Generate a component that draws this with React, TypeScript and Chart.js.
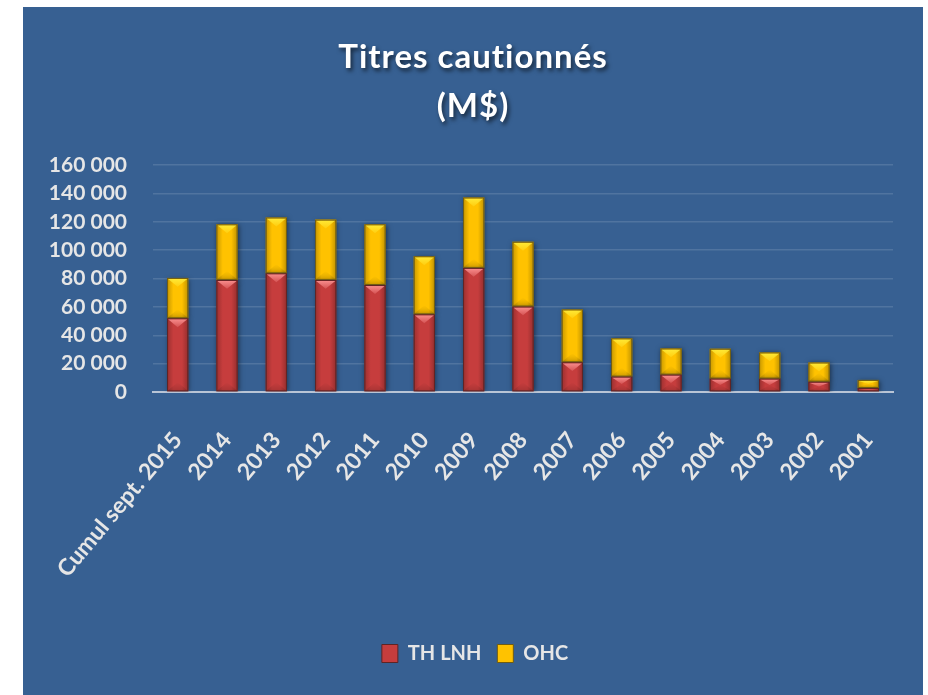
import React, { useEffect, useRef } from 'react';
import { Chart, registerables } from 'chart.js';

Chart.register(...registerables);

// ---- data ----
const titleLines = ['Titres cautionnés', '(M$)'];
const categories = [
  'Cumul sept. 2015', '2014', '2013', '2012', '2011', '2010', '2009', '2008',
  '2007', '2006', '2005', '2004', '2003', '2002', '2001',
];
const seriesNames = ['TH LNH', 'OHC'];
const thLnh = [52000, 79000, 83700, 79000, 75400, 54800, 87500, 60300, 21000, 10900, 12300, 9500, 9500, 7300, 2800];
const ohc = [28400, 39200, 39300, 42500, 42800, 40900, 49600, 45600, 37200, 26900, 18400, 21000, 18400, 13500, 5700];
const yTickValues = [0, 20000, 40000, 60000, 80000, 100000, 120000, 140000, 160000];

// ---- styles ----
const BG = '#376092';
const RED = '#C63D3D';
const YELLOW = '#FFC200';
const RED_BORDER = '#5E2424';
const YELLOW_BORDER = '#6E5C14';
const TEXT = '#E6E6E6';
const FONT = 'Lato, "Open Sans", sans-serif';

const fmt = (v: number) => String(v).replace(/\B(?=(\d{3})+(?!\d))/g, ' ');

const bgPlugin = {
  id: 'bgTitle',
  afterLayout(chart: any) {
    if (chart.legend) {
      chart.legend.left += 17;
      chart.legend.right += 17;
    }
  },
  beforeDraw(chart: any) {
    const { ctx, width, height } = chart;
    ctx.save();
    ctx.fillStyle = '#ffffff';
    ctx.fillRect(0, 0, width, height);
    ctx.fillStyle = BG;
    ctx.fillRect(23, 7, 900, height - 7);
    ctx.font = `bold 33px ${FONT}`;
    ctx.textAlign = 'center';
    ctx.textBaseline = 'alphabetic';
    try { (ctx as any).letterSpacing = '1px'; } catch (e) {}
    ctx.shadowColor = 'rgba(0,0,0,0.6)';
    ctx.shadowBlur = 4;
    ctx.shadowOffsetX = 2;
    ctx.shadowOffsetY = 3;
    ctx.fillStyle = '#ffffff';
    ctx.fillText(titleLines[0], 473, 68);
    ctx.fillText(titleLines[1], 473, 117);
    ctx.restore();
  },
};

const barFx = {
  id: 'barFx',
  beforeDatasetsDraw(chart: any) {
    const ctx = chart.ctx;
    ctx.save();
    ctx.shadowColor = 'rgba(0,0,0,0.5)';
    ctx.shadowBlur = 5;
    ctx.shadowOffsetX = 1;
    ctx.shadowOffsetY = 1;
  },
  afterDatasetsDraw(chart: any) {
    const ctx = chart.ctx;
    ctx.restore();
    chart.data.datasets.forEach((_ds: any, di: number) => {
      const meta = chart.getDatasetMeta(di);
      const light = di === 0 ? '255,150,150' : '255,238,60';
      const border = di === 0 ? RED_BORDER : YELLOW_BORDER;
      meta.data.forEach((el: any) => {
        const { x, y, base, width } = el.getProps(['x', 'y', 'base', 'width'], true);
        const l = x - width / 2;
        const r = x + width / 2;
        const top = Math.min(y, base);
        const bot = Math.max(y, base);
        const h = bot - top;
        if (h < 1) return;
        ctx.save();
        const g = ctx.createLinearGradient(l, 0, r, 0);
        g.addColorStop(0, 'rgba(0,0,0,0.22)');
        g.addColorStop(0.3, 'rgba(0,0,0,0)');
        g.addColorStop(0.7, 'rgba(0,0,0,0)');
        g.addColorStop(1, 'rgba(0,0,0,0.25)');
        ctx.fillStyle = g;
        ctx.fillRect(l, top, width, h);
        const d = Math.min(width * 0.42, h * 0.5);
        const tg = ctx.createLinearGradient(0, top, 0, top + d);
        tg.addColorStop(0, `rgba(${light},0.95)`);
        tg.addColorStop(1, `rgba(${light},0.25)`);
        ctx.beginPath();
        ctx.moveTo(l + 1, top + 1);
        ctx.lineTo(r - 1, top + 1);
        ctx.lineTo(x, top + d);
        ctx.closePath();
        ctx.fillStyle = tg;
        ctx.fill();
        const bg2 = ctx.createLinearGradient(0, bot - d, 0, bot);
        bg2.addColorStop(0, 'rgba(0,0,0,0)');
        bg2.addColorStop(1, 'rgba(0,0,0,0.15)');
        ctx.beginPath();
        ctx.moveTo(l + 1, bot - 1);
        ctx.lineTo(r - 1, bot - 1);
        ctx.lineTo(x, bot - d);
        ctx.closePath();
        ctx.fillStyle = bg2;
        ctx.fill();
        ctx.strokeStyle = border;
        ctx.lineWidth = 1;
        ctx.strokeRect(l + 0.5, top + 0.5, width - 1, h - 1);
        ctx.restore();
      });
    });
  },
};

export default function App() {
  const ref = useRef<HTMLCanvasElement | null>(null);

  useEffect(() => {
    if (!ref.current) return;
    const chart = new Chart(ref.current, {
      type: 'bar',
      data: {
        labels: categories,
        datasets: [
          { label: seriesNames[0], data: thLnh, backgroundColor: RED, borderWidth: 0 },
          { label: seriesNames[1], data: ohc, backgroundColor: YELLOW, borderWidth: 0 },
        ],
      },
      plugins: [bgPlugin, barFx],
      options: {
        responsive: false,
        animation: false,
        layout: { padding: { left: 23, right: 35, top: 165, bottom: 21.5 } },
        datasets: { bar: { categoryPercentage: 1, barPercentage: 0.43 } },
        scales: {
          x: {
            stacked: true,
            z: 1,
            grid: { display: false, drawTicks: false },
            border: { display: true, color: '#B9C5D6', width: 2 },
            ticks: {
              color: TEXT,
              font: { family: FONT, weight: 'bold', size: 23 },
              minRotation: 50,
              maxRotation: 50,
              autoSkip: false,
              padding: 35,
            },
            afterFit: (s: any) => { s.height = 235.5; },
          },
          y: {
            stacked: true,
            min: 0,
            max: 160000,
            afterBuildTicks: (s: any) => { s.ticks = yTickValues.map((v) => ({ value: v })); },
            grid: {
              drawTicks: false,
              color: (c: any) => (c.tick && c.tick.value === 0 ? 'rgba(0,0,0,0)' : 'rgba(255,255,255,0.13)'),
              lineWidth: 1.5,
            },
            border: { display: false },
            ticks: {
              color: TEXT,
              font: { family: FONT, weight: 'bold', size: 21 },
              padding: 26,
              callback: (v: any) => fmt(Number(v)),
            },
            afterFit: (s: any) => { s.width = 130; },
          },
        },
        plugins: {
          title: { display: false },
          tooltip: { enabled: false },
          legend: {
            position: 'bottom',
            labels: {
              color: TEXT,
              font: { family: FONT, weight: 'bold', size: 20 },
              boxWidth: 16,
              boxHeight: 18,
              padding: 16,
              generateLabels: (ch: any) =>
                ch.data.datasets.map((ds: any, i: number) => ({
                  text: ds.label,
                  fillStyle: ds.backgroundColor,
                  strokeStyle: i === 0 ? RED_BORDER : YELLOW_BORDER,
                  lineWidth: 1,
                  fontColor: TEXT,
                  datasetIndex: i,
                  hidden: false,
                })),
            },
          },
        },
      } as any,
    });
    return () => chart.destroy();
  }, []);

  return (
    <div style={{ position: 'absolute', left: 0, top: 0, width: 928, height: 695 }}>
      <canvas ref={ref} width={928} height={695} style={{ display: 'block', width: 928, height: 695 }} />
    </div>
  );
}
